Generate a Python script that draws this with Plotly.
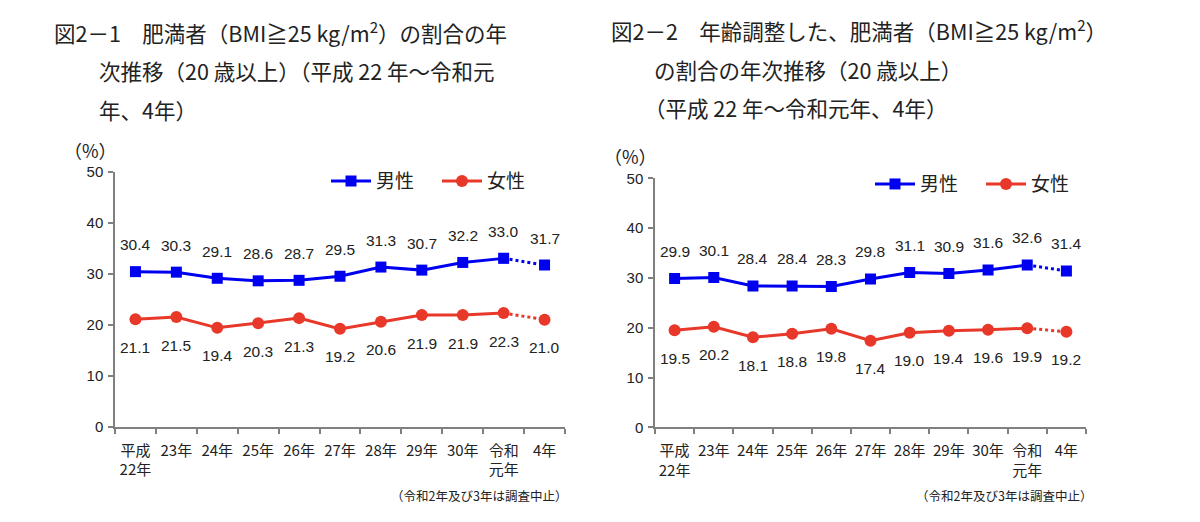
import plotly.graph_objects as go

categories = ["平成<br>22年", "23年", "24年", "25年", "26年", "27年", "28年",
              "29年", "30年", "令和<br>元年", "4年"]
male_crude = [30.4, 30.3, 29.1, 28.6, 28.7, 29.5, 31.3, 30.7, 32.2, 33.0, 31.7]
female_crude = [21.1, 21.5, 19.4, 20.3, 21.3, 19.2, 20.6, 21.9, 21.9, 22.3, 21.0]
male_adj = [29.9, 30.1, 28.4, 28.4, 28.3, 29.8, 31.1, 30.9, 31.6, 32.6, 31.4]
female_adj = [19.5, 20.2, 18.1, 18.8, 19.8, 17.4, 19.0, 19.4, 19.6, 19.9, 19.2]
y_ticks = [0, 10, 20, 30, 40, 50]

BLUE = "#0000F0"
RED = "#E8382A"
JP = "Noto Sans CJK JP"
NUM = "Liberation Sans, Arial"

fig = go.Figure()

def add_panel(xa, ya, legend, male, female):
    n = len(categories)
    for name, vals, color, sym in [("男性", male, BLUE, "square"),
                                   ("女性", female, RED, "circle")]:
        msize = 12 if sym == "circle" else 11
        fig.add_trace(go.Scatter(
            x=categories[:n - 1], y=vals[:n - 1], mode="lines+markers",
            name=name, legend=legend, xaxis=xa, yaxis=ya,
            line=dict(color=color, width=3),
            marker=dict(symbol=sym, size=msize, color=color)))
        fig.add_trace(go.Scatter(
            x=categories[n - 2:], y=vals[n - 2:], mode="lines",
            showlegend=False, xaxis=xa, yaxis=ya,
            line=dict(color=color, width=3, dash="dot")))
        fig.add_trace(go.Scatter(
            x=categories[n - 1:], y=vals[n - 1:], mode="markers",
            showlegend=False, xaxis=xa, yaxis=ya,
            marker=dict(symbol=sym, size=msize, color=color)))
    for c, v in zip(categories, male):
        fig.add_annotation(x=c, y=v, xref=xa, yref=ya, text=f"{v:.1f}",
                           showarrow=False, yshift=27,
                           font=dict(family=NUM, size=15.5, color="#222"))
    for c, v in zip(categories, female):
        fig.add_annotation(x=c, y=v, xref=xa, yref=ya, text=f"{v:.1f}",
                           showarrow=False, yshift=-28,
                           font=dict(family=NUM, size=15.5, color="#222"))

add_panel("x", "y", "legend", male_crude, female_crude)
add_panel("x2", "y2", "legend2", male_adj, female_adj)

W, H = 1200, 522

def px(x):
    return x / W

def py(y):
    return 1 - y / H

xaxis_common = dict(type="category", tickson="boundaries", range=[-0.5, 10.5],
                    tickangle=0, ticklabelstandoff=9,
                    showline=True, linecolor="#808080", linewidth=1.5,
                    ticks="outside", ticklen=5, tickcolor="#808080", tickwidth=1.5,
                    showgrid=False, zeroline=False,
                    tickfont=dict(family=JP, size=15, color="#222"))
yaxis_common = dict(range=[0, 50], tickvals=y_ticks, showline=True,
                    linecolor="#808080", linewidth=1.5, ticks="outside",
                    ticklen=5, tickcolor="#808080", tickwidth=1.5,
                    ticklabelstandoff=2,
                    showgrid=False, zeroline=False,
                    tickfont=dict(family=NUM, size=15, color="#222"))

legend_common = dict(orientation="h", xanchor="left", yanchor="middle",
                     font=dict(family=JP, size=19, color="#222"),
                     bgcolor="rgba(0,0,0,0)", entrywidth=56, itemwidth=40,
                     tracegroupgap=0)

fig.update_layout(
    width=W, height=H,
    margin=dict(l=0, r=0, t=0, b=0),
    paper_bgcolor="white", plot_bgcolor="white",
    xaxis=dict(domain=[px(115), px(565)], anchor="y", **xaxis_common),
    yaxis=dict(domain=[py(432), py(168)], anchor="x", **yaxis_common),
    xaxis2=dict(domain=[px(655), px(1086)], anchor="y2", **xaxis_common),
    yaxis2=dict(domain=[py(432.5), py(175)], anchor="x2", **yaxis_common),
    legend=dict(x=px(326), y=py(178), **legend_common),
    legend2=dict(x=px(870), y=py(181), **legend_common),
    showlegend=True,
)

title_font = dict(family=JP, size=21.5, color="#222")
titles = [
    (52, 24, "図2－1　肥満者（BMI≧25 kg/m<sup>2</sup>）の割合の年"),
    (97, 64, "次推移（20 歳以上）（平成 22 年～令和元"),
    (97, 104, "年、4年）"),
    (609, 22, "図2－2　年齢調整した、肥満者（BMI≧25 kg/m<sup>2</sup>）"),
    (652, 63, "の割合の年次推移（20 歳以上）"),
    (642, 102, "（平成 22 年～令和元年、4年）"),
]
for x, y, t in titles:
    fig.add_annotation(x=px(x), y=py(y), xref="paper", yref="paper", text=t,
                       xanchor="left", yanchor="middle", showarrow=False, font=title_font)

for x, y in [(62, 146), (602, 152)]:
    fig.add_annotation(x=px(x), y=py(y), xref="paper", yref="paper", text="（%）",
                       xanchor="left", yanchor="middle", showarrow=False,
                       font=dict(family=JP, size=18, color="#222"))

for x in [569, 1094]:
    fig.add_annotation(x=px(x), y=py(503), xref="paper", yref="paper",
                       text="（令和2年及び3年は調査中止）",
                       xanchor="right", yanchor="middle", showarrow=False,
                       font=dict(family=JP, size=12.5, color="#222"))

fig.write_html(
    "out.html",
    config={"displayModeBar": False},
    post_script="document.body.style.margin='0';"
                "document.documentElement.style.overflow='hidden';"
                "document.body.style.overflow='hidden';",
)
